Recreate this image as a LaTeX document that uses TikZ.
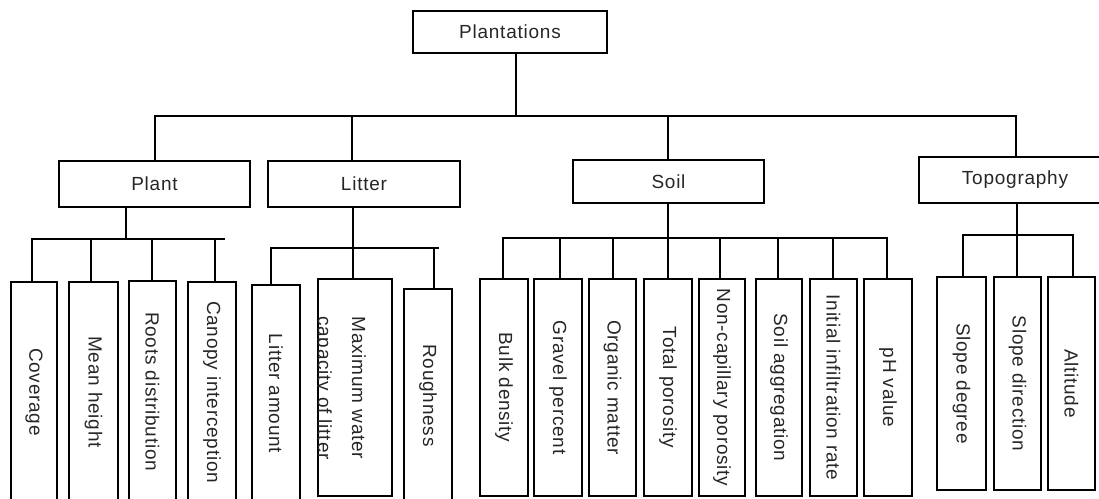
\documentclass[tikz,border=0pt]{standalone}
\usepackage{graphicx}
\usepackage{fontspec}
\setmainfont{Liberation Sans}[LetterSpace=4.0]
\begin{document}
\begin{tikzpicture}[x=1pt,y=-1pt,
  box/.style={draw, line width=1.8pt, inner sep=0pt, rectangle},
  conn/.style={line width=1.8pt, line cap=rect},
  font=\fontsize{19}{34}\selectfont, text=black!85]
\useasboundingbox (0,0) rectangle (1099,498);
\clip (0,0) rectangle (1099,498);

% level 0 and 1
\node[box, minimum width=194pt, minimum height=42pt] (top) at (510,32) {Plantations};
\node[box, minimum width=191pt, minimum height=46pt] (plant) at (154.5,184) {Plant};
\node[box, minimum width=192pt, minimum height=46pt] (litter) at (364,184) {Litter};
\node[box, minimum width=191pt, minimum height=43pt] (soil) at (668.5,181.5) {Soil};
\node[box, minimum width=192pt, minimum height=46pt] (topo) at (1015,180) {Topography};

% plant indicators
\node[box, minimum width=46pt, minimum height=220pt] (cov) at (34,392) {\rotatebox{-90}{Coverage}};
\node[box, minimum width=49pt, minimum height=220pt] (mh) at (93.5,392) {\rotatebox{-90}{Mean height}};
\node[box, minimum width=47pt, minimum height=221pt] (rd) at (152.5,391.5) {\rotatebox{-90}{Roots distribution}};
\node[box, minimum width=48pt, minimum height=220pt] (ci) at (212,392) {\rotatebox{-90}{Canopy interception}};

% litter indicators
\node[box, minimum width=48pt, minimum height=217pt] (la) at (276,393.5) {\rotatebox{-90}{Litter amount}};
\node[box, minimum width=74pt, minimum height=217pt] (mw) at (355,387.5) {};
\begin{scope}
  \clip (mw.north west) rectangle (mw.south east);
  \node[rotate=-90, align=center, inner sep=0pt] (mwt) at (340,388) {Maximum water\\capacity of litter};
\end{scope}
\node[box, minimum width=48pt, minimum height=213pt] (rg) at (428,395.5) {\rotatebox{-90}{Roughness}};

% soil indicators
\node[box, minimum width=48pt, minimum height=217pt] (bd) at (504,387.5) {\rotatebox{-90}{Bulk density}};
\node[box, minimum width=48pt, minimum height=217pt] (gp) at (558,387.5) {\rotatebox{-90}{Gravel percent}};
\node[box, minimum width=47pt, minimum height=217pt] (om) at (612.5,387.5) {\rotatebox{-90}{Organic matter}};
\node[box, minimum width=48pt, minimum height=217pt] (tp) at (668,387.5) {\rotatebox{-90}{Total porosity}};
\node[box, minimum width=46pt, minimum height=217pt] (nc) at (722,387.5) {\rotatebox{-90}{Non-capillary porosity}};
\node[box, minimum width=46pt, minimum height=217pt] (sa) at (779,387.5) {\rotatebox{-90}{Soil aggregation}};
\node[box, minimum width=47pt, minimum height=217pt] (ii) at (833.5,387.5) {\rotatebox{-90}{Initial infiltration rate}};
\node[box, minimum width=48pt, minimum height=217pt] (ph) at (888,387.5) {\rotatebox{-90}{pH value}};

% topography indicators
\node[box, minimum width=49pt, minimum height=213pt] (sd) at (961.5,383.5) {\rotatebox{-90}{Slope degree}};
\node[box, minimum width=47pt, minimum height=213pt] (sdir) at (1017.5,383.5) {\rotatebox{-90}{Slope direction}};
\node[box, minimum width=47pt, minimum height=213pt] (alt) at (1071.5,383.5) {\rotatebox{-90}{Altitude}};

% ---- connectors ----
\coordinate (j0) at (516,116);
\draw[conn] (top.south -| j0) -- (j0);
\coordinate (b1) at (155,116);
\coordinate (b2) at (352,116);
\coordinate (b3) at (668,116);
\coordinate (b4) at (1016,116);
\draw[conn] (b1) -- (b4);
\foreach \b/\n in {b1/plant,b2/litter,b3/soil,b4/topo}
  \draw[conn] (\b) -- (\b |- \n.north);

% plant branch
\coordinate (pj) at (126,239);
\coordinate (pl) at (33,239);
\coordinate (pr) at (224,239);
\draw[conn] (plant.south -| pj) -- (pj);
\draw[conn] (pl) -- (pr);
\coordinate (p1) at (32,239);
\coordinate (p2) at (91,239);
\coordinate (p3) at (152,239);
\coordinate (p4) at (215,239);
\foreach \c/\n in {p1/cov,p2/mh,p3/rd,p4/ci}
  \draw[conn] (\c) -- (\c |- \n.north);

% litter branch
\coordinate (lj) at (353,248);
\coordinate (ll) at (271,248);
\coordinate (lr) at (438,248);
\coordinate (l3) at (434,248);
\draw[conn] (litter.south -| lj) -- (lj |- mw.north);
\draw[conn] (ll) -- (lr);
\draw[conn] (ll) -- (ll |- la.north);
\draw[conn] (l3) -- (l3 |- rg.north);

% soil branch
\coordinate (sj) at (668,238);
\draw[conn] (soil.south -| sj) -- (sj |- tp.north);
\coordinate (s1) at (503,238);
\coordinate (s2) at (560,238);
\coordinate (s3) at (613,238);
\coordinate (s5) at (720,238);
\coordinate (s6) at (778,238);
\coordinate (s7) at (833,238);
\coordinate (s8) at (887,238);
\draw[conn] (s1) -- (s8);
\foreach \c/\n in {s1/bd,s2/gp,s3/om,s5/nc,s6/sa,s7/ii,s8/ph}
  \draw[conn] (\c) -- (\c |- \n.north);

% topography branch
\coordinate (tj) at (1017,235);
\draw[conn] (topo.south -| tj) -- (tj |- sdir.north);
\coordinate (t1) at (963,235);
\coordinate (t3) at (1073,235);
\draw[conn] (t1) -- (t3);
\draw[conn] (t1) -- (t1 |- sd.north);
\draw[conn] (t3) -- (t3 |- alt.north);
\end{tikzpicture}
\end{document}
